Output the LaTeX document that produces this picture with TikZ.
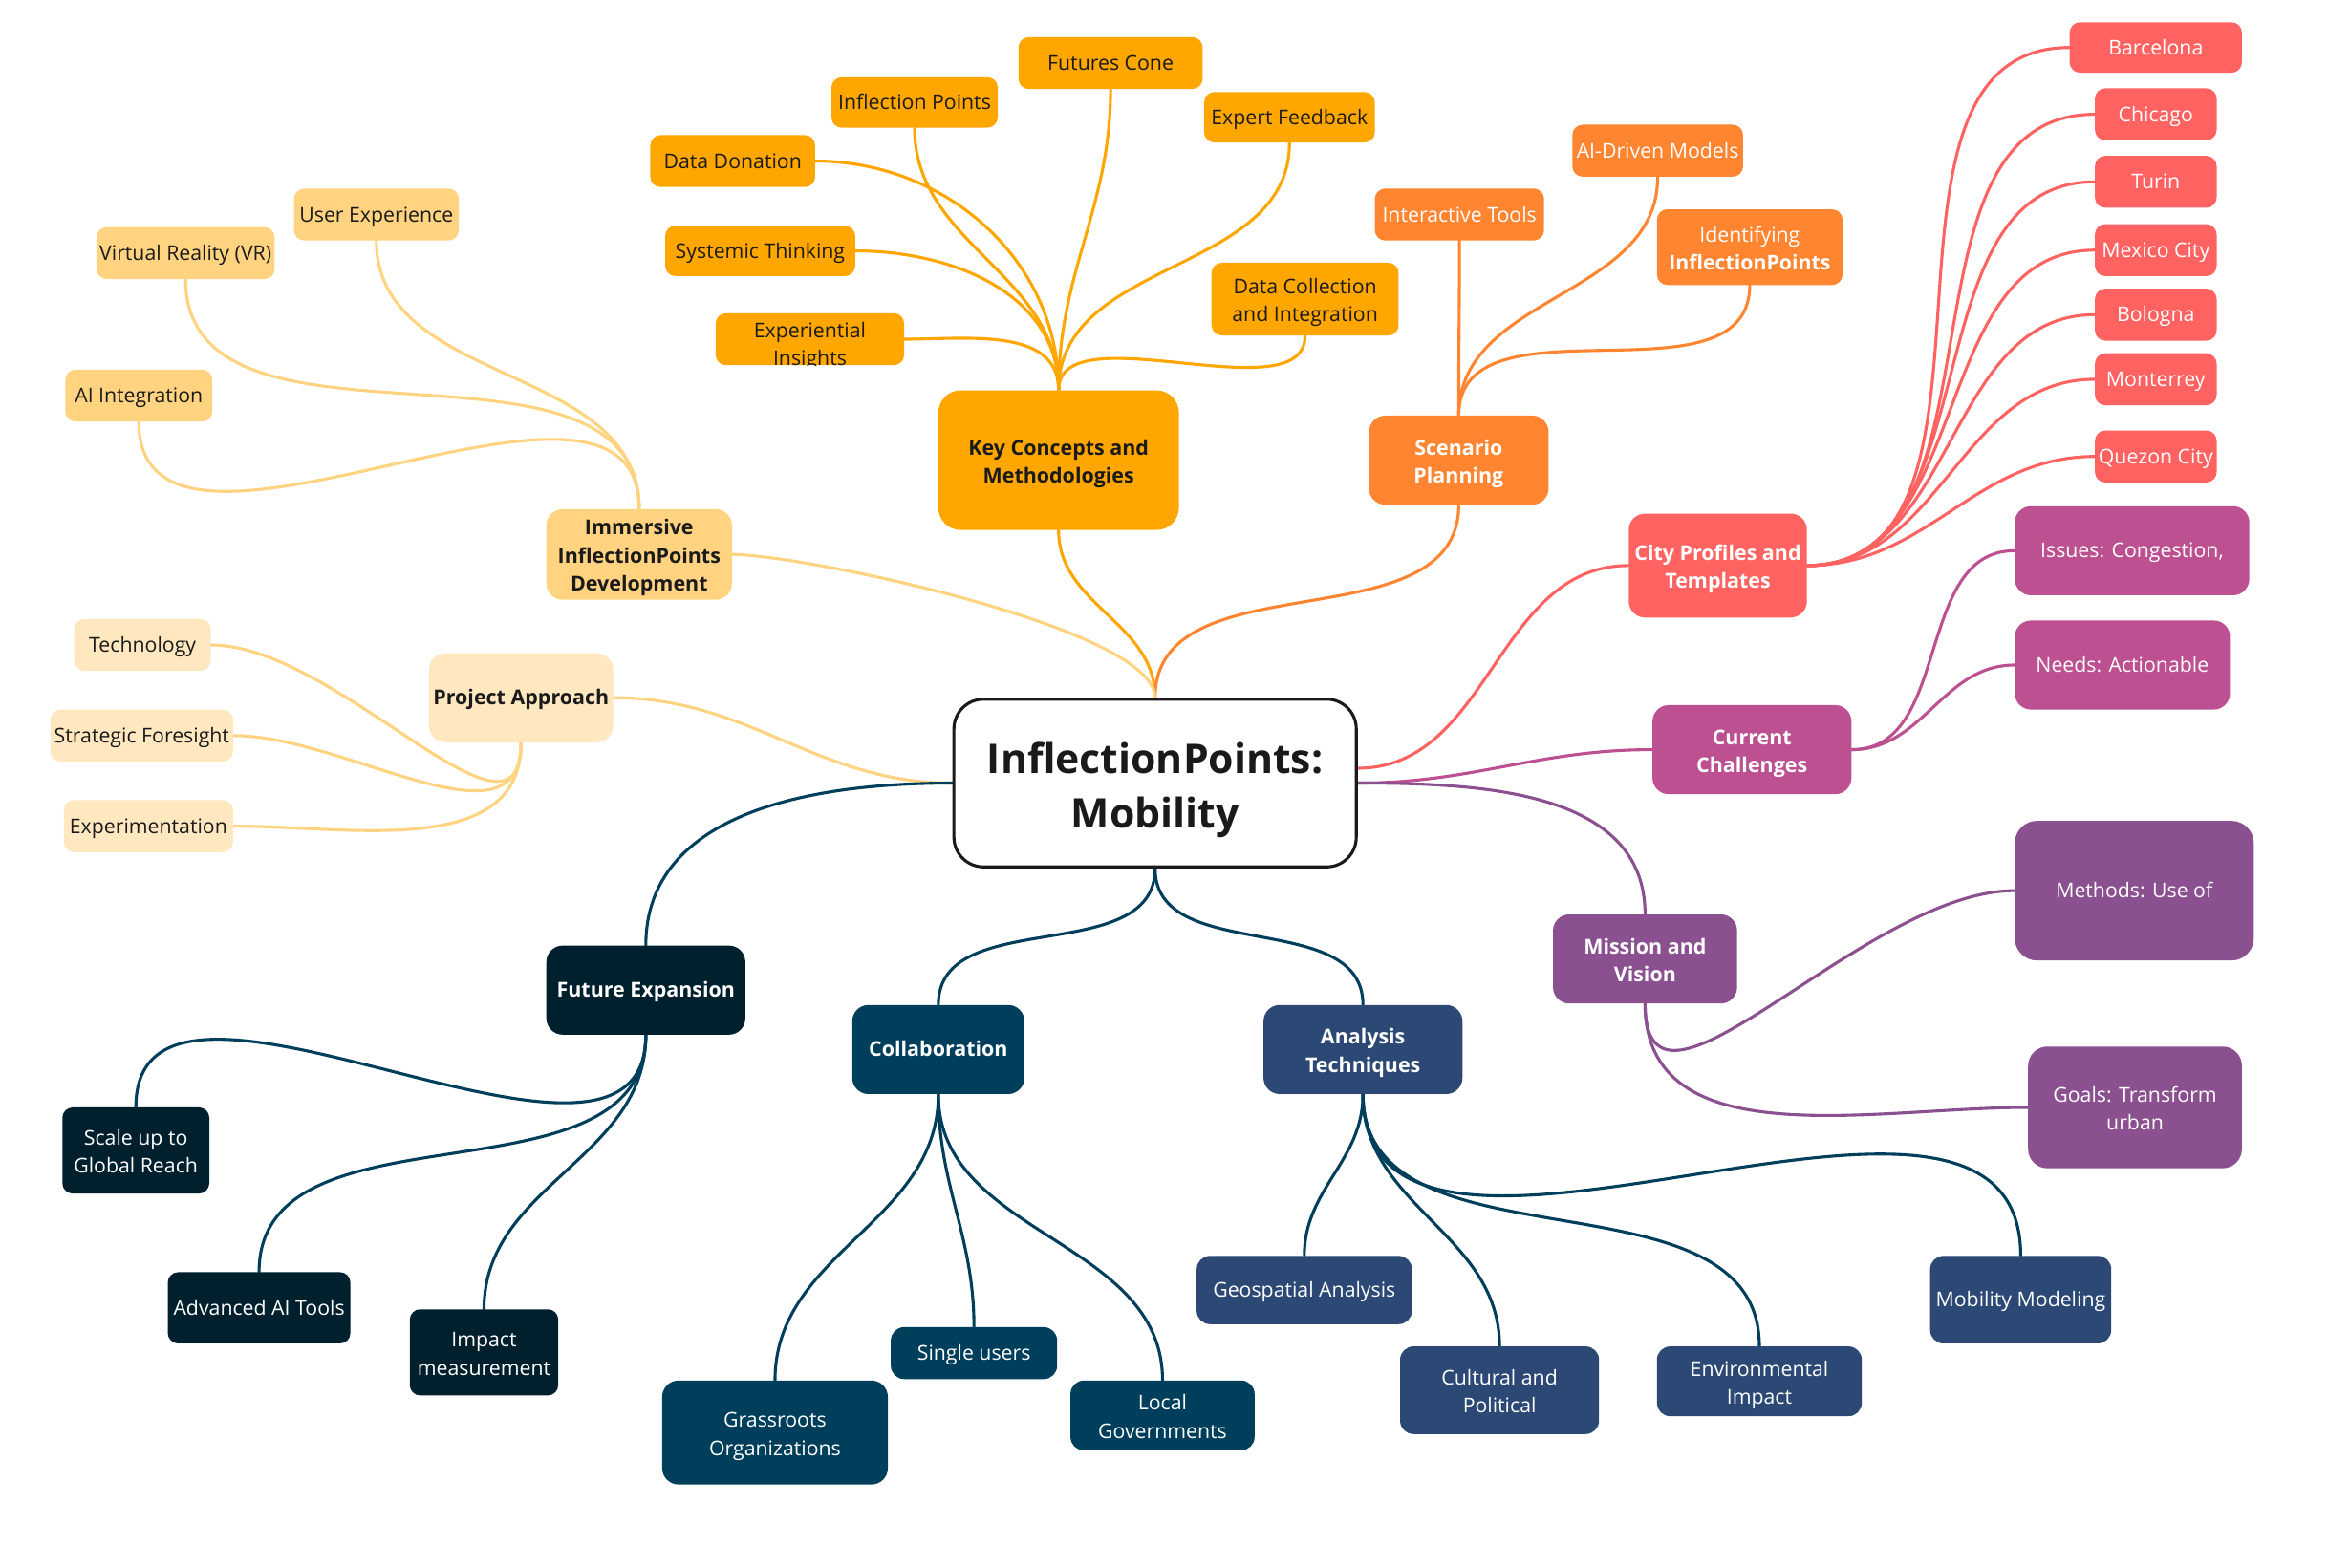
\documentclass[tikz,border=0pt]{standalone}
\usepackage{fontspec}
\setmainfont{Open Sans}
\usetikzlibrary{backgrounds,calc}
\definecolor{cOrange}{HTML}{FFA600}
\definecolor{cOrangeB}{HTML}{FF8531}
\definecolor{cLight}{HTML}{FFD380}
\definecolor{cVLight}{HTML}{FFE8C0}
\definecolor{cCoral}{HTML}{FF6361}
\definecolor{cMagenta}{HTML}{BC5090}
\definecolor{cPurple}{HTML}{8A508F}
\definecolor{cSlate}{HTML}{2C4875}
\definecolor{cNavy}{HTML}{003F5C}
\definecolor{cDark}{HTML}{00202E}
\definecolor{cText}{HTML}{1A1A1A}
\newcommand{\mystrut}{\rule[-0.26em]{0pt}{1.23em}}
\newcommand{\tl}{\rule[-0.26em]{0pt}{1.38em}}
\tikzset{
  nb/.style={rectangle, rounded corners=7pt, inner sep=0pt, align=center, font=\fontsize{13.7}{19}\selectfont,
    execute at begin node=\mystrut, execute at end node=\mystrut},
  hb/.style={rounded corners=11pt, font=\fontsize{13.8}{19}\selectfont\bfseries},
  kcn/.style={nb, fill=cOrange, text=cText},
  scn/.style={nb, fill=cOrangeB, text=white},
  imn/.style={nb, fill=cLight, text=cText},
  pan/.style={nb, fill=cVLight, text=cText},
  cpn/.style={nb, fill=cCoral, text=white},
  ccn/.style={nb, fill=cMagenta, text=white, rounded corners=11pt},
  mvn/.style={nb, fill=cPurple, text=white, rounded corners=13pt},
  fen/.style={nb, fill=cDark, text=white},
  con/.style={nb, fill=cNavy, text=white, rounded corners=9pt},
  atn/.style={nb, fill=cSlate, text=white, rounded corners=9pt},
  ln/.style={line width=2pt, line cap=round},
}
\begin{document}
\begin{tikzpicture}[x=1pt,y=1pt]
\useasboundingbox (0,-1056) rectangle (1568,0);

% central
\node[draw=cText, fill=white, line width=2pt, rounded corners=20pt, minimum width=271pt, minimum height=113pt, align=center, inner sep=0pt, text=cText, font=\fontsize{27.5}{37}\selectfont\bfseries, execute at begin node=\mystrut, execute at end node=\mystrut] (ctr) at (778,-527.5) {\tl InflectionPoints:\\Mobility};
\coordinate (cpe) at ($(ctr.east)+(0,10)$);

% Key concepts
\node[kcn, hb, rounded corners=15pt, minimum width=162pt, minimum height=94pt] (kc) at (713,-310) {\tl Key Concepts and\\Methodologies};
\node[kcn, minimum width=124pt, minimum height=35pt] (fc) at (748,-42.5) {Futures Cone};
\node[kcn, minimum width=112pt, minimum height=34pt] (ip) at (616,-69) {Inflection Points};
\node[kcn, minimum width=115pt, minimum height=34pt] (ef) at (868.5,-79) {Expert Feedback};
\node[kcn, minimum width=111pt, minimum height=35pt] (dd) at (493.5,-108.5) {Data Donation};
\node[kcn, minimum width=128pt, minimum height=34pt] (st) at (512,-169) {Systemic Thinking};
\node[kcn, minimum width=127pt, minimum height=35pt,
  path picture={\node[text=cText, align=center, inner sep=0pt, font=\fontsize{13.7}{19}\selectfont, execute at begin node={}, execute at end node={}] (eitxt) at ([yshift=-5pt]path picture bounding box.center) {Experiential\\Insights};}] (ei) at (545.5,-228.5) {};
\node[kcn, minimum width=126pt, minimum height=49pt] (dc) at (879,-201.5) {\tl Data Collection\\and Integration};

% Scenario planning
\node[scn, hb, minimum width=121pt, minimum height=60pt] (sp) at (982.5,-310) {\tl Scenario\\Planning};
\node[scn, minimum width=114pt, minimum height=35pt] (it) at (983,-144.5) {Interactive Tools};
\node[scn, minimum width=115pt, minimum height=35pt] (ai) at (1116.5,-101.5) {AI-Driven Models};
\node[scn, minimum width=125pt, minimum height=51pt] (id) at (1178.5,-166.5) {\tl Identifying\\\textbf{InflectionPoints}};

% Immersive
\node[imn, hb, minimum width=125pt, minimum height=61pt] (im) at (430.5,-373.5) {\tl Immersive\\InflectionPoints\\Development};
\node[imn, minimum width=111pt, minimum height=35pt] (ux) at (253.5,-144.5) {User Experience};
\node[imn, minimum width=120pt, minimum height=35pt] (vr) at (125,-170.5) {Virtual Reality (VR)};
\node[imn, minimum width=99pt, minimum height=35pt] (aii) at (93.5,-266.5) {AI Integration};

% Project approach
\node[pan, hb, minimum width=124pt, minimum height=60pt] (pa) at (351,-470) {Project Approach};
\node[pan, minimum width=92pt, minimum height=35pt] (tech) at (96,-434.5) {Technology};
\node[pan, minimum width=123pt, minimum height=35pt] (sf) at (95.5,-495.5) {Strategic Foresight};
\node[pan, minimum width=114pt, minimum height=35pt] (exper) at (100,-556.5) {Experimentation};

% City profiles
\node[cpn, hb, minimum width=120pt, minimum height=70pt] (cp) at (1157,-381) {\tl City Profiles and\\Templates};
\node[cpn, minimum width=116pt, minimum height=34pt] (bar) at (1452,-32) {Barcelona};
\node[cpn, minimum width=82pt, minimum height=35pt] (chi) at (1452,-77) {Chicago};
\node[cpn, minimum width=82pt, minimum height=35pt] (tur) at (1452,-122.5) {Turin};
\node[cpn, minimum width=82pt, minimum height=35pt] (mex) at (1452,-168.5) {Mexico City};
\node[cpn, minimum width=82pt, minimum height=35pt] (bol) at (1452,-212) {Bologna};
\node[cpn, minimum width=82pt, minimum height=35pt] (mon) at (1452,-255.5) {Monterrey};
\node[cpn, minimum width=82pt, minimum height=35pt] (que) at (1452,-307.5) {Quezon City};

% Current challenges
\node[ccn, hb, minimum width=134pt, minimum height=60pt] (cc) at (1180,-505) {\tl Current\\Challenges};
\node[ccn, minimum width=158pt, minimum height=60pt] (iss) at (1436,-371) {Issues: Congestion,};
\node[ccn, minimum width=145pt, minimum height=60pt] (need) at (1429.5,-448) {Needs: Actionable};

% Mission
\node[mvn, hb, minimum width=124pt, minimum height=60pt] (mv) at (1108,-646) {\tl Mission and\\Vision};
\node[mvn, rounded corners=15pt, minimum width=161pt, minimum height=94pt] (meth) at (1437.5,-600) {Methods: Use of};
\node[mvn, minimum width=144pt, minimum height=82pt] (goal) at (1438,-746) {\tl Goals: Transform\\urban};

% Future expansion
\node[fen, hb, minimum width=134pt, minimum height=60pt] (fe) at (435,-667) {Future Expansion};
\node[fen, minimum width=99pt, minimum height=58pt] (sc) at (91.5,-775) {\tl Scale up to\\Global Reach};
\node[fen, minimum width=123pt, minimum height=48pt] (adv) at (174.5,-881) {Advanced AI Tools};
\node[fen, minimum width=100pt, minimum height=58pt] (imp) at (326,-911) {\tl Impact\\measurement};

% Collaboration
\node[con, hb, minimum width=116pt, minimum height=60pt] (col) at (632,-707) {Collaboration};
\node[con, rounded corners=11pt, minimum width=152pt, minimum height=70pt] (gr) at (522,-965) {\tl Grassroots\\Organizations};
\node[con, minimum width=112pt, minimum height=35pt] (su) at (656,-911.5) {Single users};
\node[con, minimum width=124pt, minimum height=47pt] (lg) at (783,-953.5) {\tl Local\\Governments};

% Analysis
\node[atn, hb, minimum width=134pt, minimum height=60pt] (at) at (918,-707) {\tl Analysis\\Techniques};
\node[atn, minimum width=145pt, minimum height=46pt] (geo) at (878.5,-869) {Geospatial Analysis};
\node[atn, minimum width=134pt, minimum height=59pt] (cul) at (1010,-936.5) {\tl Cultural and\\Political};
\node[atn, minimum width=138pt, minimum height=47pt] (env) at (1185,-930.5) {\tl Environmental\\Impact};
\node[atn, minimum width=122pt, minimum height=59pt] (mob) at (1361,-875.5) {Mobility Modeling};

\begin{scope}[on background layer]
\fill[white] (0,-1056) rectangle (1568,0);
% key concepts
\draw[ln,cOrange] (kc.north) to[out=90,in=0] (dd.east);
\draw[ln,cOrange] (kc.north) to[out=90,in=0] (st.east);
\draw[ln,cOrange] (kc.north) to[out=90,in=0] (ei.east);
\draw[ln,cOrange] (kc.north) to[out=90,in=-90] (ip.south);
\draw[ln,cOrange] (kc.north) to[out=90,in=-90] (fc.south);
\draw[ln,cOrange] (kc.north) to[out=90,in=-90] (ef.south);
\draw[ln,cOrange] (kc.north) to[out=90,in=-90,looseness=0.8] (dc.south);
% scenario
\draw[ln,cOrangeB] (sp.north) to[out=90,in=-90] (it.south);
\draw[ln,cOrangeB] (sp.north) to[out=90,in=-90] (ai.south);
\draw[ln,cOrangeB] (sp.north) to[out=90,in=-90] (id.south);
% immersive
\draw[ln,cLight] (im.north) to[out=90,in=-90] (ux.south);
\draw[ln,cLight] (im.north) to[out=90,in=-90] (vr.south);
\draw[ln,cLight] (im.north) to[out=90,in=-90] (aii.south);
% project
\draw[ln,cLight] (pa.south) to[out=-90,in=0] (tech.east);
\draw[ln,cLight] (pa.south) to[out=-90,in=0] (sf.east);
\draw[ln,cLight] (pa.south) to[out=-90,in=0] (exper.east);
% central
\draw[ln,cOrange] (kc.south) to[out=-90,in=90] (ctr.north);
\draw[ln,cOrangeB] (sp.south) to[out=-90,in=90] (ctr.north);
\draw[ln,cLight] (im.east) to[out=0,in=90,looseness=0.4] (ctr.north);
\draw[ln,cLight] (pa.east) to[out=0,in=180] (ctr.west);
\draw[ln,cNavy] (ctr.west) to[out=180,in=90] (fe.north);
\draw[ln,cNavy] (ctr.south) to[out=-90,in=90] (col.north);
\draw[ln,cNavy] (ctr.south) to[out=-90,in=90] (at.north);
\draw[ln,cCoral] (cpe) to[out=0,in=180] (cp.west);
\draw[ln,cMagenta] (ctr.east) to[out=0,in=180] (cc.west);
\draw[ln,cPurple] (ctr.east) to[out=0,in=90] (mv.north);
% city
\foreach \c in {bar,chi,tur,mex,bol,mon,que}
  \draw[ln,cCoral] (cp.east) to[out=0,in=180] (\c.west);
% challenges
\draw[ln,cMagenta] (cc.east) to[out=0,in=180] (iss.west);
\draw[ln,cMagenta] (cc.east) to[out=0,in=180] (need.west);
% mission
\draw[ln,cPurple] (mv.south) to[out=-90,in=180] (meth.west);
\draw[ln,cPurple] (mv.south) to[out=-90,in=180] (goal.west);
% future expansion
\draw[ln,cNavy] (fe.south) to[out=-90,in=90] (sc.north);
\draw[ln,cNavy] (fe.south) to[out=-90,in=90] (adv.north);
\draw[ln,cNavy] (fe.south) to[out=-90,in=90] (imp.north);
% collaboration
\draw[ln,cNavy] (col.south) to[out=-90,in=90] (gr.north);
\draw[ln,cNavy] (col.south) to[out=-90,in=90] (su.north);
\draw[ln,cNavy] (col.south) to[out=-90,in=90] (lg.north);
% analysis
\draw[ln,cNavy] (at.south) to[out=-90,in=90] (geo.north);
\draw[ln,cNavy] (at.south) to[out=-90,in=90] (cul.north);
\draw[ln,cNavy] (at.south) to[out=-90,in=90] (env.north);
\draw[ln,cNavy] (at.south) to[out=-90,in=90] (mob.north);
\end{scope}
\end{tikzpicture}
\end{document}
